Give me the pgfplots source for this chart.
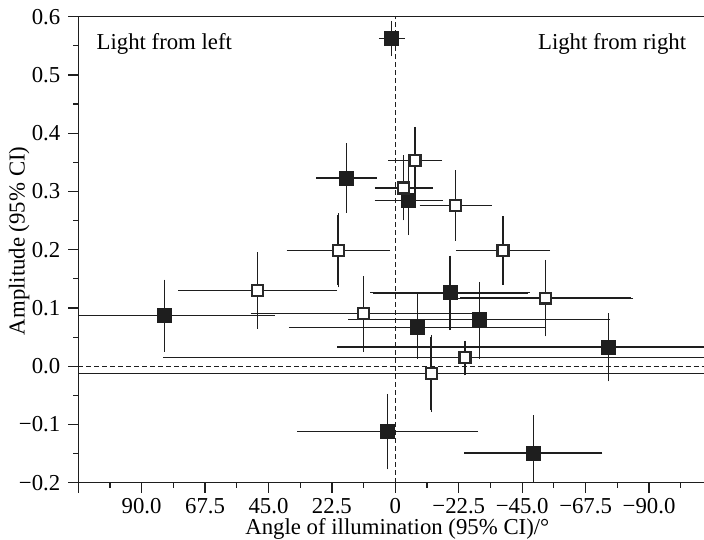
\documentclass[border=0pt]{standalone}
\usepackage{fontspec}
\setmainfont{Liberation Serif}
\usepackage{pgfplots}
\usepackage{pgfplotstable}
\pgfplotsset{compat=1.18}
\newcommand\ff{\fontsize{11.4}{13.7}\selectfont}
\definecolor{ink}{HTML}{1E1E1E}

% x, y, error on each side (x: degrees, y: amplitude)
\pgfplotstableread{
x      y      xp     xm     yp     ym
1.3    0.563  3.8    3.8    0.026  0.027
17.3   0.323  10.0   10.0   0.056  0.056
-4.7   0.285  11.3   11.3   0.056  0.056
82.0   0.087  38.4   38.4   0.058  0.058
-19.4  0.126  27.5   27.5   0.060  0.060
-29.8  0.080  45.7   45.7   0.061  0.063
-7.9   0.067  44.9   44.9   0.053  0.051
-75.6  0.033  95.5   95.5   0.054  0.055
2.7    -0.112 31.3   31.3   0.061  0.061
-49.0  -0.149 23.7   23.7   0.061  0.061
}\filled

\pgfplotstableread{
x      y      xp     xm     yp     ym
-7.0   0.353  8.8    8.8    0.054  0.054
-3.0   0.306  9.5    9.5    0.052  0.052
-21.4  0.276  12.0   12.0   0.057  0.057
20.3   0.199  17.5   17.5   0.060  0.060
-38.2  0.199  15.9   15.9   0.055  0.055
48.8   0.130  27.4   27.4   0.062  0.062
-53.2  0.117  30.4   30.4   0.062  0.062
11.3   0.090  39.2   39.2   0.061  0.061
-24.7  0.015  106.2  106.2  0.025  0.027
-12.7  -0.012 150.0  150.0  0.062  0.063
}\open

\begin{document}
\ff
\begin{tikzpicture}
\begin{axis}[
  scale only axis, width=313.2pt, height=233.3pt,
  x dir=reverse, xmin=-109.5, xmax=112.5, ymin=-0.2, ymax=0.6,
  axis x line=box, axis y line=left,
  axis line style={-, line width=0.6pt, ink},
  tick align=outside, xtick pos=left, ytick pos=left,
  xtick={112.5,90,67.5,45,22.5,0,-22.5,-45,-67.5,-90},
  xticklabels={,90.0,67.5,45.0,22.5,0,−22.5,−45.0,−67.5,−90.0},
  minor xtick={101.25,78.75,56.25,33.75,11.25,-11.25,-33.75,-56.25,-78.75,-101.25},
  ytick={-0.2,-0.1,0,0.1,0.2,0.3,0.4,0.5,0.6},
  yticklabels={−0.2,−0.1,0.0,0.1,0.2,0.3,0.4,0.5,0.6},
  minor ytick={-0.15,-0.05,0.05,0.15,0.25,0.35,0.45,0.55},
  major tick length=5pt, minor tick length=2.6pt,
  every tick/.style={ink, line width=0.6pt},
  tick label style={font=\ff},
  xticklabel style={yshift=1pt},
  label style={font=\ff},
  xlabel={Angle of illumination (95\% CI)/°},
  ylabel={Amplitude (95\% CI)},
  xlabel style={at={(axis description cs:0.51,0)}, anchor=center, yshift=-23pt},
  ylabel style={at={(axis description cs:-0.0942,0.519)}, anchor=center},
  error bars/error bar style={line width=0.65pt, ink},
  error bars/error mark options={line width=0.6pt, mark size=1.1pt, ink},
]
\addplot[ink, line width=0.5pt, dash pattern=on 2.5pt off 1.5pt] coordinates {(112.5,0)(-109.5,0)};
\addplot[ink, line width=0.5pt, dash pattern=on 2.5pt off 1.5pt] coordinates {(0,-0.2)(0,0.6)};

\addplot[only marks, mark=square*, mark size=3.5pt,
  mark options={fill=ink, draw=ink, line width=0.4pt},
  error bars/.cd, x dir=both, x explicit, y dir=both, y explicit]
  table[x=x, y=y, x error plus=xp, x error minus=xm, y error plus=yp, y error minus=ym] {\filled};

\addplot[only marks, mark=square*, mark size=2.75pt,
  mark options={fill=white, draw=ink!95, line width=1.1pt},
  error bars/.cd, x dir=both, x explicit, y dir=both, y explicit]
  table[x=x, y=y, x error plus=xp, x error minus=xm, y error plus=yp, y error minus=ym] {\open};

\node[anchor=base west, font=\ff, inner sep=0pt] at (axis cs:106.1,0.543) {Light from left};
\node[anchor=base east, font=\ff, inner sep=0pt] at (axis cs:-103.3,0.543) {Light from right};
\end{axis}
\pgfresetboundingbox
\path ([xshift=-39.15pt,yshift=-28.3pt]current axis.south west) rectangle ([yshift=8.35pt]current axis.north east);
\end{tikzpicture}
\end{document}
